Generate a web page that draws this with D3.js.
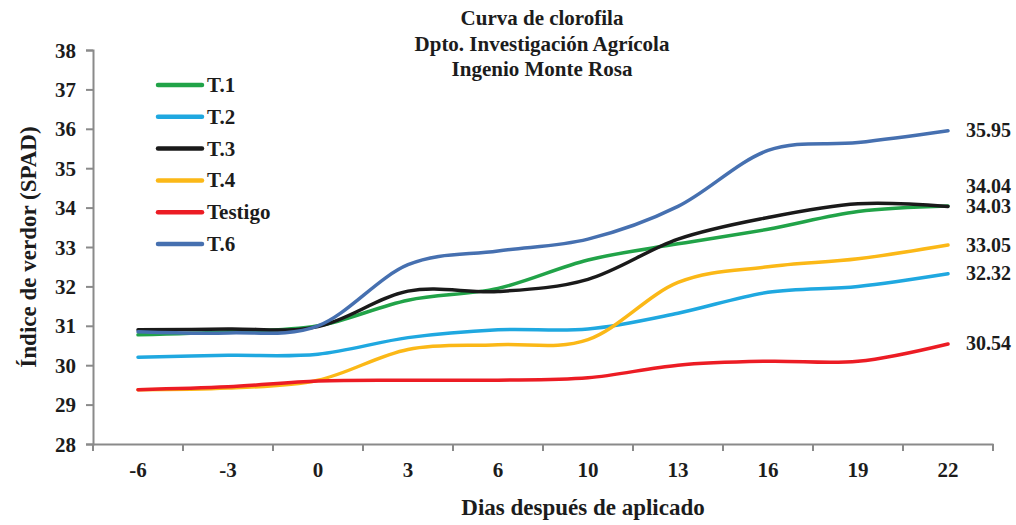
<!DOCTYPE html>
<html>
<head>
<meta charset="utf-8">
<script src="https://cdn.jsdelivr.net/npm/d3@7"></script>
<style>
  body { margin: 0; background: #fff; }
</style>
</head>
<body>
<script>
var days = ["-6", "-3", "0", "3", "6", "10", "13", "16", "19", "22"];
var yTicks = [28, 29, 30, 31, 32, 33, 34, 35, 36, 37, 38];
var seriesNames = ["T.1", "T.2", "T.3", "T.4", "Testigo", "T.6"];
var seriesColors = ["#21a348", "#1fa8e0", "#1a1a1a", "#fbb817", "#ec1c24", "#4670b0"];

var t1 = [30.77, 30.85, 31.0, 31.65, 31.95, 32.67, 33.08, 33.45, 33.9, 34.04];
var t2 = [30.2, 30.25, 30.28, 30.7, 30.9, 30.92, 31.32, 31.85, 32.0, 32.32];
var t3 = [30.9, 30.92, 30.98, 31.88, 31.87, 32.18, 33.2, 33.75, 34.1, 34.03];
var t4 = [29.38, 29.42, 29.62, 30.4, 30.52, 30.65, 32.1, 32.5, 32.7, 33.05];
var testigo = [29.38, 29.45, 29.6, 29.62, 29.62, 29.68, 30.0, 30.1, 30.1, 30.54];
var t6 = [30.85, 30.82, 31.0, 32.55, 32.9, 33.2, 34.03, 35.45, 35.65, 35.95];
var allSeries = [t1, t2, t3, t4, testigo, t6];

var serif = "'Liberation Serif', 'Times New Roman', serif";
var ink = "#1c1c1c";

function init() {
    var w = 1016;
    var h = 525;
    var left = 93, right = 993, top = 50, bottom = 444;

    var svg = d3.select("body")
        .append("svg")
        .attr("width", w)
        .attr("height", h);

    var x = d3.scaleBand()
        .domain(days)
        .range([left, right]);

    var y = d3.scaleLinear()
        .domain([28, 38])
        .range([bottom, top]);

    function label(sel, size) {
        return sel.style("font-family", serif)
            .style("font-weight", "bold")
            .style("font-size", size + "px")
            .style("fill", ink);
    }

    // title
    var title = ["Curva de clorofila", "Dpto. Investigación Agrícola", "Ingenio Monte Rosa"];
    svg.selectAll(".title")
        .data(title)
        .enter()
        .append("text")
        .attr("class", "title")
        .attr("x", 542)
        .attr("y", function (d, i) { return 25 + i * 25.5; })
        .attr("text-anchor", "middle")
        .call(label, 21)
        .text(function (d) { return d; });

    // axes
    var yAxis = d3.axisLeft(y).tickValues(yTicks).tickSize(7).tickFormat(d3.format("d"));
    var gy = svg.append("g")
        .attr("transform", "translate(" + left + ",0)")
        .call(yAxis);
    gy.select(".domain").attr("stroke", "#8a8a8a").attr("stroke-width", 2);
    gy.selectAll(".tick line").attr("stroke", "#8a8a8a").attr("stroke-width", 2);
    gy.selectAll(".tick text")
        .attr("x", -17)
        .attr("dy", "0.34em")
        .call(label, 21);

    var xAxis = d3.axisBottom(x).tickSize(0);
    var gx = svg.append("g")
        .attr("transform", "translate(0," + bottom + ")")
        .call(xAxis);
    gx.select(".domain").attr("stroke", "#8a8a8a").attr("stroke-width", 2);
    gx.selectAll(".tick text")
        .attr("dy", "0")
        .attr("y", 33)
        .call(label, 21);

    // ticks between categories
    var bounds = days.map(function (d) { return x(d); }).concat([right]);
    svg.selectAll(".xtick")
        .data(bounds)
        .enter()
        .append("line")
        .attr("class", "xtick")
        .attr("x1", function (d) { return d; })
        .attr("x2", function (d) { return d; })
        .attr("y1", bottom)
        .attr("y2", bottom + 7)
        .attr("stroke", "#8a8a8a")
        .attr("stroke-width", 2);

    // axis titles
    svg.append("text")
        .attr("transform", "translate(36,247) rotate(-90)")
        .attr("text-anchor", "middle")
        .call(label, 23)
        .text("Índice de verdor (SPAD)");

    svg.append("text")
        .attr("x", 583)
        .attr("y", 515)
        .attr("text-anchor", "middle")
        .call(label, 23)
        .text("Dias después de aplicado");

    // lines
    var line = d3.line()
        .x(function (d, i) { return x(days[i]) + x.bandwidth() / 2; })
        .y(function (d) { return y(d); })
        .curve(d3.curveCatmullRom.alpha(0));

    svg.selectAll(".series")
        .data(allSeries)
        .enter()
        .append("path")
        .attr("class", "series")
        .attr("fill", "none")
        .attr("stroke", function (d, i) { return seriesColors[i]; })
        .attr("stroke-width", 3.5)
        .attr("stroke-linecap", "round")
        .attr("d", line);

    // end labels, pushed apart when they overlap
    var last = days.length - 1;
    var labels = allSeries.map(function (s) { return { v: s[last], y: y(s[last]) }; });
    labels.sort(function (a, b) { return b.y - a.y; });
    for (var i = 1; i < labels.length; i++) {
        if (labels[i - 1].y - labels[i].y < 20) {
            labels[i].y = labels[i - 1].y - 20;
        }
    }
    svg.selectAll(".endlabel")
        .data(labels)
        .enter()
        .append("text")
        .attr("class", "endlabel")
        .attr("x", 966)
        .attr("y", function (d) { return d.y + 6.5; })
        .call(label, 20)
        .text(function (d) { return d.v.toFixed(2); });

    // legend
    var lg = svg.selectAll(".legend")
        .data(seriesNames)
        .enter()
        .append("g")
        .attr("class", "legend")
        .attr("transform", function (d, i) { return "translate(158," + (85 + i * 31.8) + ")"; });
    lg.append("line")
        .attr("x1", 0)
        .attr("x2", 44)
        .attr("stroke", function (d, i) { return seriesColors[i]; })
        .attr("stroke-width", 4.5)
        .attr("stroke-linecap", "round");
    lg.append("text")
        .attr("x", 49)
        .attr("y", 7)
        .call(label, 21)
        .text(function (d) { return d; });
}

window.onload = init;
</script>
</body>
</html>
